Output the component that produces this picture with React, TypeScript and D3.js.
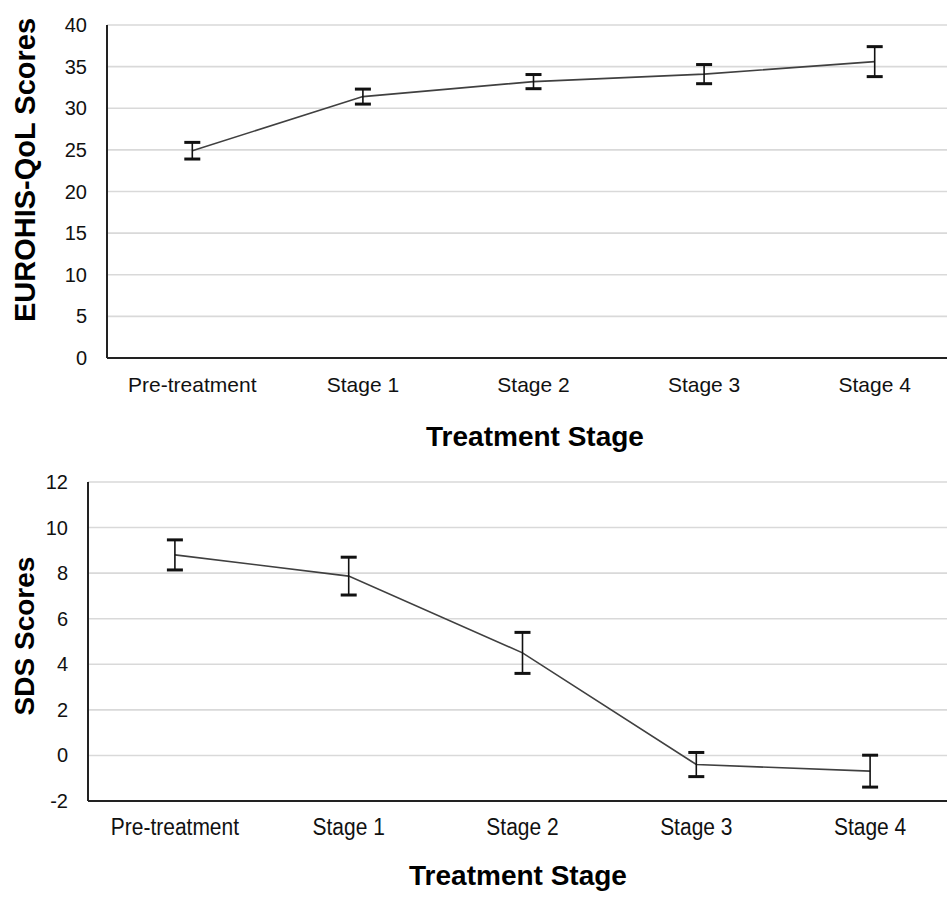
import * as d3 from "d3";

const stages = ["Pre-treatment", "Stage 1", "Stage 2", "Stage 3", "Stage 4"];

const qolMeans = [24.9, 31.4, 33.2, 34.1, 35.6];
const qolErrors = [1.0, 0.9, 0.85, 1.15, 1.8];
const qolTicks = [0, 5, 10, 15, 20, 25, 30, 35, 40];

const sdsMeans = [8.8, 7.87, 4.5, -0.4, -0.69];
const sdsErrors = [0.66, 0.83, 0.9, 0.53, 0.7];
const sdsTicks = [-2, 0, 2, 4, 6, 8, 10, 12];

const FONT = "'Liberation Sans', Arial, sans-serif";

type PanelProps = {
  means: number[];
  errors: number[];
  ticks: number[];
  yTitle: string;
  left: number;
  right: number;
  top: number;
  bottom: number;
  titleX: number;
  titleY: number;
  titleSize: number;
  tickLabelY: number;
  xTitleX: number;
  xTitleY: number;
  stretch: number;
};

function Panel(p: PanelProps) {
  const x = d3.scaleBand().domain(stages).range([p.left, p.right]).padding(0);
  const y = d3
    .scaleLinear()
    .domain([p.ticks[0], p.ticks[p.ticks.length - 1]])
    .range([p.bottom, p.top]);
  const cx = (s: string) => (x(s) as number) + x.bandwidth() / 2;
  const pts = stages.map((s, i) => ({ s, v: p.means[i], e: p.errors[i] }));
  const line = d3
    .line<{ s: string; v: number }>()
    .x((d) => cx(d.s))
    .y((d) => y(d.v));

  return (
    <g>
      {p.ticks.slice(1).map((t) => (
        <line
          key={"g" + t}
          x1={p.left}
          x2={947}
          y1={y(t)}
          y2={y(t)}
          stroke="#d9d9d9"
          strokeWidth={1.6}
        />
      ))}
      <line x1={p.left} x2={p.left} y1={p.top} y2={p.bottom} stroke="#222" strokeWidth={2} />
      <line x1={p.left} x2={947} y1={p.bottom} y2={p.bottom} stroke="#222" strokeWidth={2} />
      {p.ticks.map((t) => (
        <text
          key={"t" + t}
          x={p.left - 20}
          y={y(t)}
          dy="0.35em"
          textAnchor="end"
          fontSize={20}
          fontFamily={FONT}
          fill="#111"
        >
          {t}
        </text>
      ))}
      {stages.map((s) => (
        <text
          key={s}
          transform={`translate(${cx(s)},${p.tickLabelY}) scale(1,${p.stretch})`}
          textAnchor="middle"
          fontSize={21}
          fontFamily={FONT}
          fill="#111"
        >
          {s}
        </text>
      ))}
      <path d={line(pts) || ""} fill="none" stroke="#404040" strokeWidth={1.6} />
      {pts.map((d) => (
        <g key={"e" + d.s} stroke="#111">
          <line x1={cx(d.s)} x2={cx(d.s)} y1={y(d.v - d.e)} y2={y(d.v + d.e)} strokeWidth={1.6} />
          <line x1={cx(d.s) - 8} x2={cx(d.s) + 8} y1={y(d.v + d.e)} y2={y(d.v + d.e)} strokeWidth={3} />
          <line x1={cx(d.s) - 8} x2={cx(d.s) + 8} y1={y(d.v - d.e)} y2={y(d.v - d.e)} strokeWidth={3} />
        </g>
      ))}
      <text
        transform={`translate(${p.titleX},${p.titleY}) rotate(-90)`}
        textAnchor="middle"
        fontSize={p.titleSize}
        fontWeight="bold"
        fontFamily={FONT}
        fill="#000"
      >
        {p.yTitle}
      </text>
      <text
        x={p.xTitleX}
        y={p.xTitleY}
        textAnchor="middle"
        fontSize={28}
        fontWeight="bold"
        fontFamily={FONT}
        fill="#000"
      >
        Treatment Stage
      </text>
    </g>
  );
}

export default function App() {
  return (
    <svg
      width={947}
      height={897}
      style={{ position: "absolute", left: 0, top: 0, background: "#fff" }}
    >
      <Panel
        means={qolMeans}
        errors={qolErrors}
        ticks={qolTicks}
        yTitle="EUROHIS-QoL Scores"
        left={107}
        right={960}
        top={25}
        bottom={358}
        titleX={35}
        titleY={170}
        titleSize={29}
        tickLabelY={392}
        xTitleX={535}
        xTitleY={446}
        stretch={1}
      />
      <Panel
        means={sdsMeans}
        errors={sdsErrors}
        ticks={sdsTicks}
        yTitle="SDS Scores"
        left={88}
        right={957}
        top={482}
        bottom={801}
        titleX={34}
        titleY={636}
        titleSize={28}
        tickLabelY={835}
        xTitleX={518}
        xTitleY={885}
        stretch={1.12}
      />
    </svg>
  );
}
